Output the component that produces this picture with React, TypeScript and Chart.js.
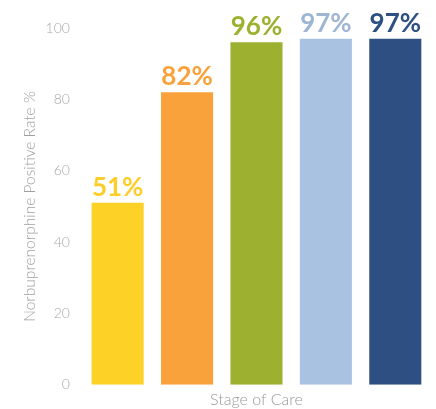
import React, { useEffect, useRef } from "react";
import { Chart, registerables } from "chart.js";

Chart.register(...registerables);

const categories = ["Stage 1", "Stage 2", "Stage 3", "Stage 4", "Stage 5"];
const values = [51, 82, 96, 97, 97];
const valueLabels = ["51%", "82%", "96%", "97%", "97%"];
const barColors = ["#FDD126", "#F9A23B", "#9DB02F", "#A9C2E2", "#2D4F82"];
const labelColors = ["#FDCD2A", "#F9A23B", "#9DB02F", "#9FB5D4", "#2D4F82"];
const yTicks = [0, 20, 40, 60, 80, 100];

const valueLabelPlugin = {
  id: "valueLabels",
  afterDatasetsDraw(chart: any) {
    const ctx = chart.ctx;
    const meta = chart.getDatasetMeta(0);
    ctx.save();
    ctx.font = "bold 26px Lato, 'Open Sans', sans-serif";
    ctx.textAlign = "center";
    ctx.textBaseline = "alphabetic";
    meta.data.forEach((bar: any, i: number) => {
      ctx.fillStyle = labelColors[i];
      ctx.fillText(valueLabels[i], bar.x, bar.y - 7);
    });
    ctx.restore();
  },
};

export default function App() {
  const ref = useRef<HTMLCanvasElement>(null);
  useEffect(() => {
    if (!ref.current) return;
    const chart = new Chart(ref.current, {
      type: "bar",
      data: {
        labels: categories,
        datasets: [
          {
            data: values,
            backgroundColor: barColors,
            categoryPercentage: 0.75,
            barPercentage: 1,
          },
        ],
      },
      options: {
        animation: false,
        responsive: true,
        maintainAspectRatio: false,
        layout: { padding: { top: 28, right: 6, left: 18, bottom: 0 } },
        plugins: { legend: { display: false }, tooltip: { enabled: false } },
        scales: {
          x: {
            grid: { display: false },
            border: { display: false },
            ticks: { display: false },
            title: {
              display: true,
              text: "Stage of Care",
              color: "#9a9a9a",
              font: { family: "Lato", size: 16, weight: "300" as any },
              padding: { top: -3, bottom: 0 },
            },
          },
          y: {
            min: 0,
            max: 100,
            grid: { display: false },
            border: { display: false },
            afterBuildTicks: (axis: any) => {
              axis.ticks = yTicks.map((v) => ({ value: v }));
            },
            ticks: {
              color: "#a8a8a8",
              padding: 5,
              font: { family: "Lato", size: 14, weight: "300" as any },
            },
            title: {
              display: true,
              text: "Norbuprenorphine Positive Rate %",
              color: "#a0a0a0",
              font: { family: "Lato", size: 15.5, weight: "300" as any },
              padding: { top: 3, bottom: 1 },
            },
          },
        },
      },
      plugins: [valueLabelPlugin],
    });
    return () => chart.destroy();
  }, []);
  return (
    <div style={{ position: "fixed", left: 0, top: 0, width: 436, height: 409, background: "#fff" }}>
      <canvas ref={ref} />
    </div>
  );
}
